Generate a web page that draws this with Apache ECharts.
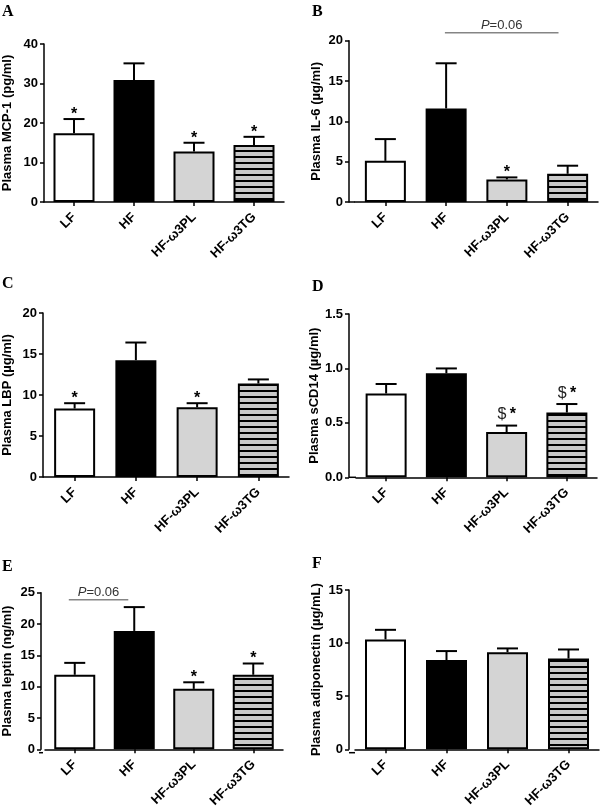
<!DOCTYPE html>
<html>
<head>
<meta charset="utf-8">
<script src="https://cdn.jsdelivr.net/npm/echarts@6/dist/echarts.min.js"></script>
<style>
html,body{margin:0;padding:0;background:#fff;}
#chart{width:600px;height:810px;}
</style>
</head>
<body>
<div id="chart"></div>
<script>
// ---------- data ----------
const categories = ['LF', 'HF', 'HF-ω3PL', 'HF-ω3TG'];

const mcp1Mean  = [17.4, 30.9, 12.8, 14.4];
const mcp1Upper = [21.0, 35.1, 15.0, 16.5];
const mcp1Marks = ['*', '', '*', '*'];

const il6Mean  = [5.1, 11.6, 2.8, 3.5];
const il6Upper = [7.8, 17.2, 3.05, 4.5];
const il6Marks = ['', '', '*', ''];
const il6Bracket = [0.98, 2.85, 21.0]; // from index, to index, y value
const il6BracketText = 'P=0.06';

const lbpMean  = [8.35, 14.25, 8.5, 11.4];
const lbpUpper = [9.0, 16.4, 9.0, 11.9];
const lbpMarks = ['*', '', '*', ''];

const cd14Mean  = [0.77, 0.955, 0.415, 0.595];
const cd14Upper = [0.857, 1.0, 0.475, 0.673];
const cd14Marks = ['', '', '$*', '$*'];

const leptinMean  = [11.9, 18.9, 9.65, 11.9];
const leptinUpper = [13.8, 22.7, 10.7, 13.7];
const leptinMarks = ['', '', '*', '*'];
const leptinBracket = [-0.1, 0.9, 23.86];
const leptinBracketText = 'P=0.06';

const adipoMean  = [10.35, 8.4, 9.15, 8.55];
const adipoUpper = [11.25, 9.25, 9.5, 9.4];
const adipoMarks = ['', '', '', ''];

// ---------- layout ----------
const SANS = 'Liberation Sans, Arial, sans-serif';
const panels = [
  {letter:'A', lx:2,   ly:4,   left:42,  top:44,    width:242, height:158,   offset:0, max:40,  interval:10,  digits:0, nameGap:30, name:'Plasma MCP-1 (pg/ml)',     mean:mcp1Mean,  upper:mcp1Upper,  marks:mcp1Marks},
  {letter:'B', lx:312, ly:4,   left:355, top:40.7,  width:243, height:161.3, offset:6, max:20,  interval:5,   digits:0, nameGap:26, name:'Plasma IL-6 (µg/ml)',      mean:il6Mean,   upper:il6Upper,   marks:il6Marks, bracket:il6Bracket, bracketText:il6BracketText},
  {letter:'C', lx:2,   ly:276, left:44,  top:313,   width:245, height:164,   offset:1, max:20,  interval:5,   digits:0, nameGap:29, name:'Plasma LBP (µg/ml)',       mean:lbpMean,   upper:lbpUpper,   marks:lbpMarks},
  {letter:'D', lx:312, ly:279, left:356, top:314,   width:241, height:163.3, offset:7, max:1.5, interval:0.5, digits:1, nameGap:26, name:'Plasma sCD14 (µg/ml)',     mean:cd14Mean,  upper:cd14Upper,  marks:cd14Marks},
  {letter:'E', lx:2,   ly:559, left:43,  top:592.7, width:240, height:160,   offset:4, max:25,  interval:5,   digits:0, nameGap:27, name:'Plasma leptin (ng/ml)',    mean:leptinMean,upper:leptinUpper,marks:leptinMarks, bracket:leptinBracket, bracketText:leptinBracketText},
  {letter:'F', lx:312, ly:556, left:355, top:590,   width:244, height:162.7, offset:6, max:15,  interval:5,   digits:0, nameGap:26, name:'Plasma adiponectin (µg/mL)',mean:adipoMean, upper:adipoUpper, marks:adipoMarks}
];

// stripe pattern for HF-ω3TG
const stripe = document.createElement('canvas');
stripe.width = 6; stripe.height = 6;
(function(){
  const c = stripe.getContext('2d');
  c.fillStyle = '#c9c9c9'; c.fillRect(0,0,6,6);
  c.fillStyle = '#000'; c.fillRect(0,0,6,2);
})();

const barStyles = [
  {color:'#ffffff', borderColor:'#000', borderWidth:2},
  {color:'#000000', borderColor:'#000', borderWidth:2},
  {color:'#d4d4d4', borderColor:'#000', borderWidth:2},
  {color:{image:stripe, repeat:'repeat'}, borderColor:'#000', borderWidth:2}
];

const chart = echarts.init(document.getElementById('chart'), null, {renderer:'canvas'});

const option = {
  animation:false,
  backgroundColor:'#fff',
  title:[], grid:[], xAxis:[], yAxis:[], series:[], graphic:[]
};

panels.forEach((p, k) => {
  option.title.push({text:p.letter, left:p.lx, top:p.ly, padding:0,
    textStyle:{fontFamily:'Liberation Serif, Times New Roman, serif', fontWeight:'bold', fontSize:16, color:'#000'}});
  option.grid.push({left:p.left, top:p.top, width:p.width, height:p.height, containLabel:false});
  option.xAxis.push({
    type:'category', gridIndex:k, data:categories, boundaryGap:true,
    axisLine:{show:true, lineStyle:{color:'#000', width:1.5}},
    axisTick:{show:true, alignWithLabel:true, length:4, lineStyle:{color:'#000', width:1.5}},
    axisLabel:{interval:0, rotate:45, margin:13, color:'#000', fontFamily:SANS, fontWeight:'bold', fontSize:13},
    splitLine:{show:false}
  });
  option.yAxis.push({
    type:'value', gridIndex:k, min:0, max:p.max, interval:p.interval, offset:p.offset,
    name:p.name, nameLocation:'middle', nameGap:p.nameGap,
    nameTextStyle:{color:'#000', fontFamily:SANS, fontWeight:'bold', fontSize:13},
    axisLine:{show:true, lineStyle:{color:'#000', width:1.5}},
    axisTick:{show:true, length:4, lineStyle:{color:'#000', width:1.5}},
    axisLabel:{color:'#000', fontFamily:SANS, fontWeight:'bold', fontSize:13, margin:6,
      formatter:v => v.toFixed(p.digits)},
    splitLine:{show:false}
  });
  // bars
  option.series.push({
    type:'bar', xAxisIndex:k, yAxisIndex:k, barWidth:41,
    data:p.mean.map((v,i)=>({value:v, itemStyle:barStyles[i]})),
    z:2
  });
  // error bars + significance marks
  option.series.push({
    type:'custom', xAxisIndex:k, yAxisIndex:k, z:3,
    data:p.mean.map((v,i)=>[i, v, p.upper[i]]),
    encode:{x:0, y:[1,2]},
    renderItem:(params, api) => {
      const i = params.dataIndex;
      const base = api.coord([i, api.value(1)]);
      const top = api.coord([i, api.value(2)]);
      const half = 10.5;
      const children = [
        {type:'line', shape:{x1:top[0], y1:base[1], x2:top[0], y2:top[1]}, style:{stroke:'#000', lineWidth:2}},
        {type:'line', shape:{x1:top[0]-half, y1:top[1], x2:top[0]+half, y2:top[1]}, style:{stroke:'#000', lineWidth:2}}
      ];
      const m = p.marks[i];
      if (m === '*') {
        children.push({type:'text', x:top[0], y:top[1]-4.5,
          style:{text:'*', fill:'#000', font:'bold 16px ' + SANS, align:'center', verticalAlign:'middle'}});
      } else if (m === '$*') {
        children.push({type:'text', x:top[0], y:top[1]-10.5,
          style:{text:'{d|$} {s|*}', align:'center', verticalAlign:'middle',
            rich:{d:{fontFamily:SANS, fontSize:16, fill:'#222', color:'#222'},
                  s:{fontFamily:SANS, fontWeight:'bold', fontSize:16, fill:'#000', color:'#000'}}}});
      }
      return {type:'group', children};
    }
  });
  // bracket
  if (p.bracket) {
    const b = p.bracket;
    option.series.push({
      type:'custom', xAxisIndex:k, yAxisIndex:k, z:3, clip:false,
      data:[[0, b[2]]],
      encode:{x:0, y:1},
      renderItem:(params, api) => {
        const c0 = api.coord([0, api.value(1)]);
        const c1 = api.coord([1, api.value(1)]);
        const step = c1[0] - c0[0];
        const x0 = c0[0] + b[0]*step, x1 = c0[0] + b[1]*step, y = c0[1];
        return {type:'group', children:[
          {type:'line', shape:{x1:x0, y1:y, x2:x1, y2:y}, style:{stroke:'#858585', lineWidth:1.5}},
          {type:'text', x:(x0+x1)/2, y:y-0.5,
            style:{text:'{i|P}{n|=0.06}', align:'center', verticalAlign:'bottom',
              rich:{i:{fontFamily:SANS, fontStyle:'italic', fontSize:13, fill:'#333', color:'#333'},
                    n:{fontFamily:SANS, fontSize:13, fill:'#333', color:'#333'}}}}
        ]};
      }
    });
  }
  // connector between offset y-axis and x-axis start
  if (p.offset > 0) {
    option.graphic.push({type:'line', z:10,
      shape:{x1:p.left - p.offset, y1:p.top + p.height, x2:p.left, y2:p.top + p.height},
      style:{stroke:'#000', lineWidth:1.5}});
  }
});

chart.setOption(option);
</script>
</body>
</html>
